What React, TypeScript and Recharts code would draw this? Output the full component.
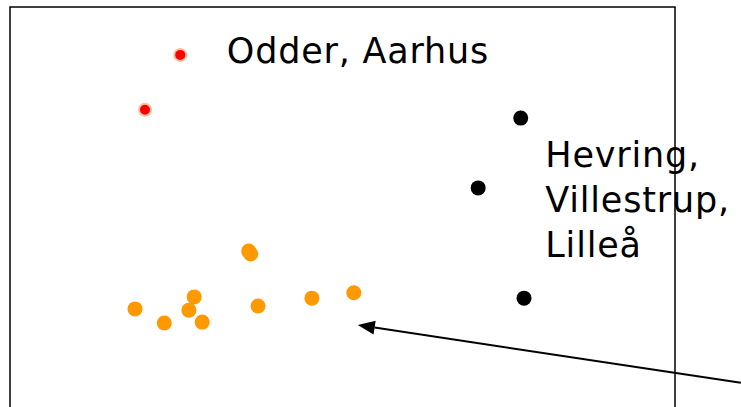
import React from "react";
import {
  ScatterChart,
  Scatter,
  XAxis,
  YAxis,
  ReferenceArea,
  ReferenceLine,
} from "recharts";

// ─── DATA (arbitrary score units, frame = 0..100 on both axes) ─────────────
const redPoints = [
  { x: 25.6, y: 88.4 },
  { x: 20.3, y: 75.1 },
];

const blackPoints = [
  { x: 76.8, y: 73.1 },
  { x: 70.4, y: 56.2 },
  { x: 77.3, y: 29.5 },
];

const orangePoints = [
  { x: 35.9, y: 40.9 },
  { x: 36.2, y: 40.2 },
  { x: 18.8, y: 26.9 },
  { x: 23.2, y: 23.5 },
  { x: 27.7, y: 29.8 },
  { x: 26.9, y: 26.6 },
  { x: 28.9, y: 23.7 },
  { x: 37.3, y: 27.6 },
  { x: 45.4, y: 29.5 },
  { x: 51.7, y: 30.8 },
];

const labelPoints = [
  { x: 32.6, y: 86.4, lines: ["Odder, Aarhus"] },
  { x: 80.5, y: 61.3, lines: ["Hevring,", "Villestrup,", "Lilleå"] },
];

// arrow from outside the frame (right) pointing at the orange group
const arrowFrom = { x: 109.9, y: 9.0 };
const arrowTo = { x: 52.3, y: 23.0 };

const FONT = "'DejaVu Sans', Verdana, sans-serif";

const dot = (fill: string, r: number, stroke?: string) => (props: any) => (
  <circle
    cx={props.cx}
    cy={props.cy}
    r={r}
    fill={fill}
    stroke={stroke ?? "none"}
    strokeWidth={stroke ? 2 : 0}
  />
);

const LabelShape = (props: any) => {
  const lines: string[] = props.payload?.lines ?? [];
  return (
    <text
      x={props.cx}
      y={props.cy}
      fontFamily={FONT}
      fontSize={35}
      letterSpacing={0.8}
      fill="#000"
    >
      {lines.map((l, i) => (
        <tspan key={i} x={props.cx} dy={i === 0 ? 0 : 45}>
          {l}
        </tspan>
      ))}
    </text>
  );
};

const ArrowShape = (props: any) => {
  const { x1, y1, x2, y2 } = props;
  const ang = Math.atan2(y2 - y1, x2 - x1);
  const len = 17;
  const half = 7;
  const bx = x2 - len * Math.cos(ang);
  const by = y2 - len * Math.sin(ang);
  const px = -Math.sin(ang) * half;
  const py = Math.cos(ang) * half;
  return (
    <g>
      <line x1={x1} y1={y1} x2={bx} y2={by} stroke="#000" strokeWidth={2} />
      <polygon
        points={`${x2},${y2} ${bx + px},${by + py} ${bx - px},${by - py}`}
        fill="#000"
      />
    </g>
  );
};

export default function App() {
  return (
    <div
      style={{
        position: "absolute",
        left: 0,
        top: 0,
        width: 741,
        height: 407,
        overflow: "hidden",
        background: "#fff",
      }}
    >
      <ScatterChart
        width={741}
        height={430}
        margin={{ top: 7, right: 66, bottom: 10, left: 10 }}
      >
        <XAxis type="number" dataKey="x" domain={[0, 100]} hide />
        <YAxis type="number" dataKey="y" domain={[0, 100]} hide />

        {/* frame */}
        <ReferenceArea
          x1={0}
          x2={100}
          y1={0}
          y2={100}
          fill="none"
          stroke="#000"
          strokeWidth={1.5}
          fillOpacity={0}
          strokeOpacity={1}
        />

        <Scatter
          data={redPoints}
          shape={dot("#ff0000", 6, "#ffc09a")}
          isAnimationActive={false}
        />
        <Scatter
          data={blackPoints}
          shape={dot("#000000", 7.5)}
          isAnimationActive={false}
        />
        <Scatter
          data={orangePoints}
          shape={dot("#ff9900", 7.5)}
          isAnimationActive={false}
        />
        <Scatter
          data={labelPoints}
          shape={LabelShape}
          isAnimationActive={false}
        />

        <ReferenceLine
          segment={[arrowFrom, arrowTo]}
          ifOverflow="visible"
          shape={ArrowShape}
        />
      </ScatterChart>
    </div>
  );
}
